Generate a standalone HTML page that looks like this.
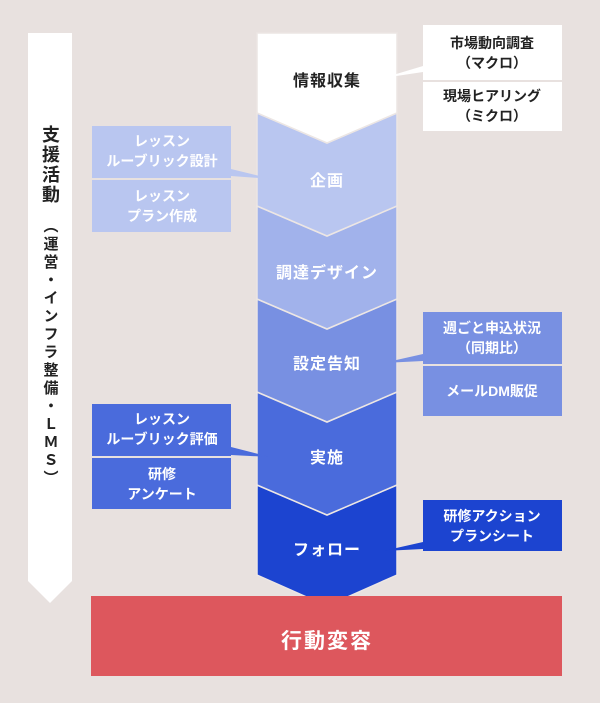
<!DOCTYPE html>
<html><head><meta charset="utf-8"><style>
html,body{margin:0;padding:0;background:#e8e1df;}
svg{display:block;font-family:"Liberation Sans","Noto Sans CJK JP",sans-serif;}
</style></head><body>
<svg width="600" height="703" viewBox="0 0 600 703" xmlns="http://www.w3.org/2000/svg">
<rect width="600" height="703" fill="#e8e1df"/>
<!-- left arrow -->
<polygon points="28,33 72,33 72,581 50,603 28,581" fill="#fff"/>
<text x="50" y="125" writing-mode="tb" font-size="18" font-weight="bold" fill="#222" style="writing-mode:vertical-rl" text-anchor="start" letter-spacing="2">支援活動</text>
<text x="50" y="218" font-size="15" font-weight="bold" fill="#222" style="writing-mode:vertical-rl" letter-spacing="3">（運営・インフラ整備・ＬＭＳ）</text>
<!-- main column -->
<g stroke="#ece6e4" stroke-width="1.5">
<polygon points="257,485 327,515 397,485 397,575 327,606 257,575" fill="#1c44d0"/>
<polygon points="257,392 327,422 397,392 397,485 327,515 257,485" fill="#4a6bdc"/>
<polygon points="257,299 327,329 397,299 397,392 327,422 257,392" fill="#7890e2"/>
<polygon points="257,206 327,236 397,206 397,299 327,329 257,299" fill="#a1b2eb"/>
<polygon points="257,113 327,143 397,113 397,206 327,236 257,206" fill="#b9c6f0"/>
<polygon points="257,33 397,33 397,113 327,143 257,113" fill="#fff"/>
</g>
<g font-size="16" font-weight="bold" text-anchor="middle" fill="#fff" letter-spacing="1">
<text x="327" y="86" fill="#222">情報収集</text>
<text x="327" y="186">企画</text>
<text x="327" y="278">調達デザイン</text>
<text x="327" y="369">設定告知</text>
<text x="327" y="463">実施</text>
<text x="327" y="555">フォロー</text>
</g>
<!-- red box -->
<rect x="91" y="596" width="471" height="80" fill="#dd575d"/>
<text x="327" y="648" font-size="21" font-weight="bold" fill="#fff" text-anchor="middle" letter-spacing="2">行動変容</text>
<!-- side boxes -->
<g font-size="14" font-weight="bold" text-anchor="middle">
<rect x="423" y="25" width="139" height="55" fill="#fff"/>
<rect x="423" y="82" width="139" height="49" fill="#fff"/>
<polygon points="423,66 423,72 383,78" fill="#fff"/>
<text x="492" y="48" fill="#222">市場動向調査</text>
<text x="492" y="68" fill="#222">（マクロ）</text>
<text x="492" y="101" fill="#222">現場ヒアリング</text>
<text x="492" y="121" fill="#222">（ミクロ）</text>

<rect x="92" y="126" width="139" height="52" fill="#b9c6f0"/>
<rect x="92" y="180" width="139" height="52" fill="#b9c6f0"/>
<polygon points="231,169 231,176 272,179" fill="#b9c6f0"/>
<text x="162" y="146" fill="#fff">レッスン</text>
<text x="162" y="166" fill="#fff">ルーブリック設計</text>
<text x="162" y="201" fill="#fff">レッスン</text>
<text x="162" y="221" fill="#fff">プラン作成</text>

<rect x="423" y="312" width="139" height="52" fill="#7890e2"/>
<rect x="423" y="366" width="139" height="50" fill="#7890e2"/>
<polygon points="423,354 423,361 383,363" fill="#7890e2"/>
<text x="492" y="333" fill="#fff">週ごと申込状況</text>
<text x="492" y="353" fill="#fff">（同期比）</text>
<text x="492" y="396" fill="#fff">メールDM販促</text>

<rect x="92" y="404" width="139" height="52" fill="#4a6bdc"/>
<rect x="92" y="458" width="139" height="51" fill="#4a6bdc"/>
<polygon points="231,447 231,455 270,457" fill="#4a6bdc"/>
<text x="162" y="424" fill="#fff">レッスン</text>
<text x="162" y="444" fill="#fff">ルーブリック評価</text>
<text x="162" y="479" fill="#fff">研修</text>
<text x="162" y="499" fill="#fff">アンケート</text>

<rect x="423" y="500" width="139" height="51" fill="#1c44d0"/>
<polygon points="423,542 423,549 383,551" fill="#1c44d0"/>
<text x="492" y="521" fill="#fff">研修アクション</text>
<text x="492" y="541" fill="#fff">プランシート</text>
</g>
</svg>
</body></html>
